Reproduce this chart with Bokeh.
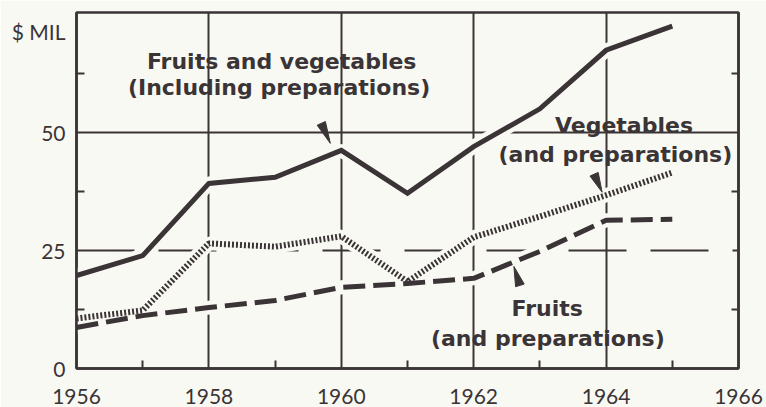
from bokeh.plotting import figure
from bokeh.models import Range1d, FixedTicker, LinearAxis, Label, Grid
from bokeh.embed import file_html
from bokeh.resources import INLINE

# ---- data ----
years = [1956, 1957, 1958, 1959, 1960, 1961, 1962, 1963, 1964, 1965]
fruits_veg = [19.7, 23.9, 39.2, 40.5, 46.2, 37.1, 47.0, 55.0, 67.4, 72.5]
vegetables = [10.6, 12.3, 26.5, 25.8, 28.0, 18.4, 27.8, 32.2, 36.7, 41.5]
fruits = [8.7, 11.2, 12.9, 14.4, 17.2, 18.0, 19.1, 24.8, 31.4, 31.6]

x_ticks = [1956, 1958, 1960, 1962, 1964, 1966]
x_minor = [1957, 1959, 1961, 1963, 1965]
x_grid = [1958, 1960, 1962, 1964]
y_ticks = [0, 25, 50]
y_minor = [12.5, 37.5, 62.5]
unit_label = "$ MIL"
x_min, x_max = 1956, 1966
y_max = 75.4

# ---- style ----
BG = "#f9f9f3"
INK = "#3b3436"
W, H = 766, 407
ML, MR, MT, MB = 76, 28, 12, 39
XS = (W - ML - MR) / (x_max - x_min)
YS = (H - MT - MB) / y_max
unit_pos = y_max - 19 / YS  # where the unit label sits, near the top

p = figure(width=W, height=H, x_range=Range1d(x_min, x_max), y_range=Range1d(0, y_max),
           output_backend="svg", toolbar_location=None,
           min_border_left=ML, min_border_right=MR, min_border_top=MT, min_border_bottom=MB,
           background_fill_color=BG, border_fill_color=BG)

p.outline_line_color = INK
p.outline_line_width = 2.5

# axes
xa = p.xaxis[0]
xa.ticker = FixedTicker(ticks=x_ticks, minor_ticks=x_minor)
ya = p.yaxis[0]
ya.ticker = FixedTicker(ticks=y_ticks + [unit_pos], minor_ticks=y_minor)
ya.major_label_overrides = {unit_pos: unit_label}
for ax in (xa, ya):
    ax.axis_line_color = INK
    ax.axis_line_width = 2.5
    ax.major_tick_in = 0
    ax.major_tick_out = 0
    ax.minor_tick_in = 8
    ax.minor_tick_out = 0
    ax.minor_tick_line_color = INK
    ax.minor_tick_line_width = 2
    ax.major_label_text_font = "Lato"
    ax.major_label_text_font_size = "21px"
    ax.major_label_text_color = INK
xa.major_label_standoff = 20
ya.major_label_standoff = 11

ra = LinearAxis(ticker=FixedTicker(ticks=[], minor_ticks=y_minor),
                axis_line_color=INK, axis_line_width=2.5,
                major_tick_in=0, major_tick_out=0, minor_tick_in=7, minor_tick_out=0,
                minor_tick_line_color=INK, minor_tick_line_width=2,
                major_label_text_alpha=0)
p.add_layout(ra, "right")

# grids
p.xgrid[0].ticker = FixedTicker(ticks=x_grid)
p.xgrid[0].grid_line_color = INK
p.xgrid[0].grid_line_width = 2
p.ygrid[0].ticker = FixedTicker(ticks=[50])
p.ygrid[0].grid_line_color = INK
p.ygrid[0].grid_line_width = 2
g25 = Grid(dimension=1, ticker=FixedTicker(ticks=[25]), grid_line_color=INK,
           grid_line_width=2, grid_line_dash="58 24")
p.add_layout(g25)

# halos (make gaps in the grid where the lines cross)
for s in (fruits_veg, vegetables, fruits):
    p.line(years, s, line_color=BG, line_width=14)

p.line(years, fruits_veg, line_color=INK, line_width=5, line_join="miter")
p.line(years, vegetables, line_color=INK, line_width=6, line_dash="2 2", line_cap="butt")
p.line(years, fruits, line_color=INK, line_width=5, line_dash="22 8", line_cap="butt")


# pointer wedges, anchored to a data point; offsets in pixels (right, down)
def wedge(ax, ay, tip, base, half):
    dx, dy = base[0] - tip[0], base[1] - tip[1]
    L = (dx * dx + dy * dy) ** 0.5
    px, py = -dy / L * half, dx / L * half
    xs = [ax + tip[0] / XS, ax + (base[0] + px) / XS, ax + (base[0] - px) / XS]
    ys = [ay - tip[1] / YS, ay - (base[1] + py) / YS, ay - (base[1] - py) / YS]
    return xs, ys


wx, wy = [], []
for (ax, ay, tip, base) in [
    (years[4], fruits_veg[4], (-11, -7), (-20, -27)),
    (years[8], vegetables[8], (-4, -3), (-12, -21)),
    (years[7], fruits[7], (-26, 15), (-20, 34)),
]:
    a, b = wedge(ax, ay, tip, base, 4.5)
    wx.append(a)
    wy.append(b)
p.patches(wx, wy, fill_color=INK, line_color=INK, line_width=1)

# labels (y = baseline, in data units; lifted 6 px to match the reference)
lift = 6.5 / YS
labels = [
    ("Fruits and vegetables", 1959.1, 63.56),
    ("(Including preparations)", 1959.06, 58.05),
    ("Vegetables", 1964.27, 50.0),
    ("(and preparations)", 1964.14, 43.86),
    ("Fruits", 1963.11, 11.23),
    ("(and preparations)", 1963.12, 5.08),
]
for txt, x, y in labels:
    p.add_layout(Label(x=x, y=y + lift, text=txt, text_align="center", text_baseline="alphabetic",
                       text_font="DejaVu Sans", text_font_style="bold", text_font_size="22px",
                       text_alpha=0, background_fill_color=BG, padding=1))
for txt, x, y in labels:
    p.add_layout(Label(x=x, y=y + lift, text=txt, text_align="center", text_baseline="alphabetic",
                       text_font="DejaVu Sans", text_font_style="bold", text_font_size="22px",
                       text_color=INK))

open("out.html", "w").write(file_html(p, INLINE))
